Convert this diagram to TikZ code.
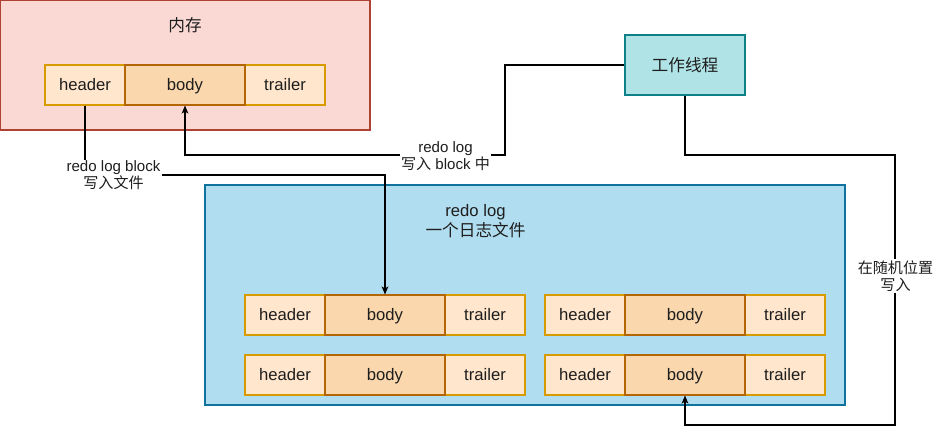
\documentclass[tikz,border=0pt]{standalone}
\usepackage{fontspec}
\setmainfont{Liberation Sans}
\newfontfamily\cjk{Noto Sans CJK SC}
\usetikzlibrary{arrows.meta}

\definecolor{memfill}{HTML}{FAD9D5}
\definecolor{memline}{HTML}{AE4132}
\definecolor{logfill}{HTML}{B1DDF0}
\definecolor{logline}{HTML}{10739E}
\definecolor{wkfill}{HTML}{B0E3E6}
\definecolor{wkline}{HTML}{0E8088}
\definecolor{sidefill}{HTML}{FFE6CC}
\definecolor{sideline}{HTML}{D79B00}
\definecolor{bodyfill}{HTML}{FAD7AC}
\definecolor{bodyline}{HTML}{B46504}
\definecolor{txt}{HTML}{1E1E1E}

\tikzset{every picture/.style={line width=0.8pt}}
\tikzset{
  boxfont/.style={font=\fontsize{12.5}{15}\selectfont},
  lblfont/.style={font=\fontsize{11.3}{12.75}\selectfont},
  sidecell/.style={draw=sideline, fill=sidefill, minimum width=60pt, minimum height=30pt, inner sep=0pt, text height=10.4pt, text depth=2pt, boxfont, text=txt},
  bodycell/.style={draw=bodyline, fill=bodyfill, minimum width=90pt, minimum height=30pt, inner sep=0pt, text height=10.4pt, text depth=2pt, boxfont, text=txt},
  lbl/.style={fill=white, inner sep=1pt, align=center, lblfont, text=txt},
  link/.style={draw=black, line width=0.9pt, -{Stealth[length=6pt,width=5pt,inset=1.5pt]}},
}

\begin{document}
\begin{tikzpicture}[x=0.75pt,y=0.75pt,yscale=-1,xscale=1]
\useasboundingbox (0,0) rectangle (933,434);

%Shape: Rectangle [memory]
\node (mem) [draw=memline, fill=memfill, minimum width=277.5pt, minimum height=97.5pt, inner sep=0pt] at (185,65) {};
% Text Node
\node (memtxt) [boxfont, text=txt] at (185,25) {\cjk 内存};
%Shape: Rectangle [redo log file]
\node (file) [draw=logline, fill=logfill, minimum width=480pt, minimum height=165pt, inner sep=0pt] at (525,295) {};
% Text Node
\node (filetxt) [boxfont, text=txt, align=center, inner sep=0pt] at (475.5,221) {redo log\\{\cjk 一个日志文件}};
%Shape: Rectangle [worker]
\node (wk) [draw=wkline, fill=wkfill, minimum width=90pt, minimum height=45pt, inner sep=0pt, boxfont, text=txt] at (685,65) {\cjk 工作线程};

%Block in memory
\node (mh) [sidecell] at (85,85) {header};
\node (mt) [sidecell] at (285,85) {trailer};
\node (mb) [bodycell] at (185,85) {body};
%Block file, row 1 left
\node (ah) [sidecell] at (285,315) {header};
\node (at) [sidecell] at (485,315) {trailer};
\node (ab) [bodycell] at (385,315) {body};
%Block file, row 1 right
\node (bh) [sidecell] at (585,315) {header};
\node (bt) [sidecell] at (785,315) {trailer};
\node (bb) [bodycell] at (685,315) {body};
%Block file, row 2 left
\node (ch) [sidecell] at (285,375) {header};
\node (ct) [sidecell] at (485,375) {trailer};
\node (cb) [bodycell] at (385,375) {body};
%Block file, row 2 right
\node (dh) [sidecell] at (585,375) {header};
\node (dt) [sidecell] at (785,375) {trailer};
\node (db) [bodycell] at (685,375) {body};

%Connectors
\coordinate (bendA) at (85,175);
\coordinate (bendB) at (505,155);
\coordinate (bendC) at (895,155);
\coordinate (bendD) at (895,425);
\draw [link] (mh.south) -- (bendA) -| (ab.north);
\draw [link] (wk.west) -| (bendB) -| (mb.south);
\draw [link] (wk.south) |- (bendC) -- (bendD) -| (db.south);

% Text Node
\node (lblA) [lbl] at (113.5,175.5) {redo log block\\{\cjk 写入文件}};
% Text Node
\node (lblB) [lbl] at (445.5,156) {redo log\\{\cjk 写入} block {\cjk 中}};
% Text Node
\node (lblC) [lbl] at (895.5,276) {{\cjk 在随机位置}\\{\cjk 写入}};

\end{tikzpicture}
\end{document}
